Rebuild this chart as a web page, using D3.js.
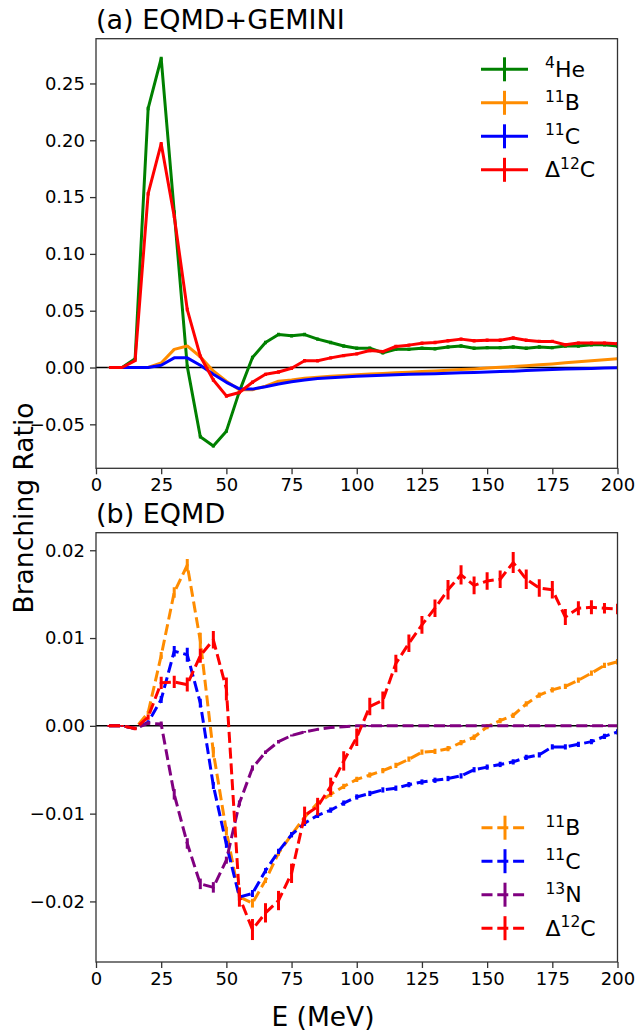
<!DOCTYPE html>
<html>
<head>
<meta charset="utf-8">
<script src="https://cdn.jsdelivr.net/npm/d3@7"></script>
<style>
  body { margin: 0; background: #fff; }
  svg { display: block; font-family: "DejaVu Sans", sans-serif; }
</style>
</head>
<body>
<svg id="chart" width="637" height="1034"></svg>
<script>
// ---- DATA ----
const energies = [5,10,15,20,25,30,35,40,45,50,55,60,65,70,75,80,85,90,95,100,
                  105,110,115,120,125,130,135,140,145,150,155,160,165,170,175,180,185,190,195,200];
const xTicks = [0,25,50,75,100,125,150,175,200];
const topYTicks = [-0.05,0,0.05,0.10,0.15,0.20,0.25];
const botYTicks = [-0.02,-0.01,0,0.01,0.02];

// (a) EQMD+GEMINI
const heTop = [0,0,0.0077,0.228,0.272,0.137,0.001,-0.061,-0.069,-0.056,-0.021,0.0088,0.022,0.029,0.028,0.029,0.025,0.022,0.019,0.017,
               0.017,0.013,0.016,0.016,0.017,0.0165,0.018,0.019,0.017,0.0175,0.0175,0.018,0.017,0.018,0.0175,0.019,0.019,0.020,0.020,0.019];
const bTop  = [0,0,0,0,0.004,0.016,0.019,0.0095,-0.003,-0.012,-0.0195,-0.0195,-0.0165,-0.012,-0.011,-0.0095,-0.0085,-0.0077,-0.007,-0.0064,
               -0.0058,-0.0052,-0.0046,-0.0041,-0.0036,-0.0030,-0.0024,-0.0018,-0.0012,-0.0005,0.0002,0.0009,0.0016,0.0024,0.0032,0.0041,0.0050,0.0060,0.0069,0.0077];
const cTop  = [0,0,0,0,0.002,0.0085,0.0085,0.002,-0.006,-0.013,-0.0188,-0.019,-0.017,-0.0145,-0.0125,-0.011,-0.0097,-0.0090,-0.0083,-0.0077,
               -0.0072,-0.0068,-0.0064,-0.0060,-0.0057,-0.0054,-0.0051,-0.0047,-0.0043,-0.0040,-0.0036,-0.0032,-0.0027,-0.0022,-0.0018,-0.0014,-0.0011,-0.0008,-0.0005,-0.0003];
const dTop  = [0,0,0.006,0.153,0.197,0.133,0.051,0.010,-0.011,-0.025,-0.022,-0.013,-0.006,-0.004,-0.0007,0.006,0.006,0.0085,0.0105,0.012,
               0.015,0.014,0.0185,0.0197,0.0213,0.022,0.0235,0.025,0.0235,0.024,0.024,0.026,0.024,0.023,0.023,0.020,0.0215,0.0215,0.0215,0.021];
const heTopErr = [0.0002,0.0002,0.001,0.0015,0.0015,0.0015,0.0015,0.0015,0.0015,0.0015,0.0015,0.0015,0.0015,0.0015,0.0015,0.0015,0.0015,0.0015,0.0015,0.0015,
                  0.0015,0.0015,0.0015,0.0015,0.0015,0.0015,0.0015,0.0015,0.0015,0.0015,0.0015,0.0015,0.0015,0.0015,0.0015,0.0015,0.0015,0.0015,0.0015,0.0015];
const bTopErr  = [0,0,0,0.0002,0.0004,0.0005,0.0005,0.0005,0.0004,0.0004,0.0004,0.0004,0.0004,0.0004,0.0004,0.0004,0.0004,0.0004,0.0004,0.0004,
                  0.0004,0.0004,0.0004,0.0004,0.0004,0.0004,0.0004,0.0004,0.0004,0.0004,0.0004,0.0004,0.0004,0.0004,0.0004,0.0004,0.0004,0.0004,0.0004,0.0004];
const cTopErr  = [0,0,0,0.0002,0.0004,0.0005,0.0005,0.0005,0.0004,0.0004,0.0004,0.0004,0.0004,0.0004,0.0004,0.0004,0.0004,0.0004,0.0004,0.0004,
                  0.0004,0.0004,0.0004,0.0004,0.0004,0.0004,0.0004,0.0004,0.0004,0.0004,0.0004,0.0004,0.0004,0.0004,0.0004,0.0004,0.0004,0.0004,0.0004,0.0004];
const dTopErr  = [0.0002,0.0002,0.001,0.0015,0.0015,0.0015,0.0015,0.0015,0.0015,0.0015,0.0015,0.0015,0.0015,0.0015,0.0015,0.0015,0.0015,0.0015,0.0015,0.0015,
                  0.0015,0.0015,0.0015,0.0015,0.0015,0.0015,0.0015,0.0015,0.0015,0.0015,0.0015,0.0015,0.0015,0.0015,0.0015,0.0015,0.0015,0.0015,0.0015,0.0015];

// (b) EQMD
const bBot = [0,0,-0.0003,0.0015,0.008,0.0152,0.0183,0.0097,-0.003,-0.012,-0.0195,-0.0202,-0.0176,-0.0145,-0.0124,-0.0104,-0.0088,-0.0078,-0.0069,-0.0061,
              -0.0056,-0.0051,-0.0045,-0.0038,-0.003,-0.0029,-0.0026,-0.0019,-0.0013,-0.0001,0.0006,0.0012,0.0025,0.0035,0.0041,0.0045,0.0052,0.006,0.0069,0.0073];
const cBot = [0,0,-0.0003,0.0004,0.003,0.0085,0.0081,0.0026,-0.0068,-0.0135,-0.0195,-0.0191,-0.0165,-0.0143,-0.0124,-0.0111,-0.0102,-0.0096,-0.0088,-0.0081,
              -0.0077,-0.0073,-0.0071,-0.0067,-0.0064,-0.0062,-0.006,-0.0057,-0.005,-0.0047,-0.0044,-0.0041,-0.0036,-0.0033,-0.0024,-0.0024,-0.0021,-0.0018,-0.0012,-0.0007];
const nBot = [0,0,-0.0003,0.0003,0.0002,-0.0078,-0.0134,-0.018,-0.0184,-0.0153,-0.0088,-0.0048,-0.003,-0.0018,-0.0011,-0.0007,-0.0004,-0.0002,-0.0001,0,
              0,0,0,0,0,0,0,0,0,0,0,0,0,0,0,0,0,0,0,0];
const dBot = [0,0,-0.0003,0.001,0.0049,0.005,0.0047,0.008,0.0098,0.0042,-0.0195,-0.0232,-0.0213,-0.0199,-0.0168,-0.0102,-0.0092,-0.0069,-0.004,-0.0013,
              0.0022,0.0029,0.0071,0.0094,0.0115,0.0134,0.0155,0.0172,0.016,0.0165,0.0167,0.0186,0.0167,0.0157,0.0155,0.0124,0.0134,0.0135,0.0134,0.0133];
const bBotErr = [0.0001,0.0001,0.0001,0.0002,0.0004,0.0006,0.0007,0.0009,0.0006,0.0005,0.0004,0.0005,0.0003,0.0003,0.0003,0.0003,0.0003,0.0003,0.0003,0.0003,
                 0.0003,0.0003,0.0003,0.0003,0.0003,0.0003,0.0003,0.0003,0.0003,0.0003,0.0003,0.0003,0.0003,0.0003,0.0003,0.0003,0.0003,0.0003,0.0003,0.0003];
const cBotErr = [0.0001,0.0001,0.0001,0.0002,0.0004,0.0006,0.0008,0.0005,0.0004,0.0004,0.0004,0.0004,0.0003,0.0003,0.0003,0.0003,0.0003,0.0003,0.0003,0.0003,
                 0.0003,0.0003,0.0003,0.0003,0.0003,0.0003,0.0003,0.0003,0.0003,0.0003,0.0003,0.0003,0.0003,0.0003,0.0003,0.0003,0.0003,0.0003,0.0003,0.0003];
const nBotErr = [0.0001,0.0001,0.0001,0.0002,0.0003,0.0006,0.0006,0.0006,0.0006,0.0004,0.0003,0.0003,0.0002,0.0002,0.0001,0.0001,0.0001,0.0001,0.0001,0.0001,
                 0.0001,0.0001,0.0001,0.0001,0.0001,0.0001,0.0001,0.0001,0.0001,0.0001,0.0001,0.0001,0.0001,0.0001,0.0001,0.0001,0.0001,0.0001,0.0001,0.0001];
const dBotErr = [0.0001,0.0001,0.0002,0.0003,0.0007,0.0007,0.0008,0.0008,0.001,0.0013,0.0011,0.0012,0.0011,0.0011,0.0011,0.001,0.001,0.001,0.0011,0.001,
                 0.001,0.001,0.001,0.001,0.001,0.001,0.0011,0.0011,0.001,0.001,0.001,0.0012,0.0011,0.001,0.001,0.0009,0.0008,0.0008,0.0006,0.0006];

const topSeries = [
  { sup: "4",  base: "He", pre: "",  color: "green",      vals: heTop, err: heTopErr },
  { sup: "11", base: "B",  pre: "",  color: "darkorange", vals: bTop,  err: bTopErr },
  { sup: "11", base: "C",  pre: "",  color: "blue",       vals: cTop,  err: cTopErr },
  { sup: "12", base: "C",  pre: "Δ", color: "red",        vals: dTop,  err: dTopErr }
];
const botSeries = [
  { sup: "11", base: "B",  pre: "",  color: "darkorange", vals: bBot, err: bBotErr },
  { sup: "11", base: "C",  pre: "",  color: "blue",       vals: cBot, err: cBotErr },
  { sup: "13", base: "N",  pre: "",  color: "purple",     vals: nBot, err: nBotErr },
  { sup: "12", base: "C",  pre: "Δ", color: "red",        vals: dBot, err: dBotErr }
];

// ---- LAYOUT ----
const svg = d3.select("#chart");
const left = 96, right = 617.5;
const x = d3.scaleLinear().domain([0, 200]).range([left, right]);

const panels = [
  { title: "(a) EQMD+GEMINI", top: 38.7, bottom: 468.3, ydom: [-0.0887, 0.2894], ticks: topYTicks, series: topSeries, dashed: false,
    legend: { x: 481, y: 69.3 } },
  { title: "(b) EQMD", top: 532.7, bottom: 962, ydom: [-0.0269, 0.0220], ticks: botYTicks, series: botSeries, dashed: true,
    legend: { x: 481.5, y: 827.7 } }
];

const fmt = d3.format(".2f");

function labelText(sel, s, size, supSize) {
  if (s.pre) sel.append("tspan").attr("font-size", size).text(s.pre);
  sel.append("tspan").attr("font-size", supSize).attr("dy", -8.5).text(s.sup);
  sel.append("tspan").attr("font-size", size).attr("dy", 8.5).text(s.base);
}

panels.forEach(p => {
  const y = d3.scaleLinear().domain(p.ydom).range([p.bottom, p.top]);
  const g = svg.append("g");

  // clip for plot area
  const clipId = "clip" + Math.round(p.top);
  svg.append("clipPath").attr("id", clipId)
    .append("rect").attr("x", left).attr("y", p.top).attr("width", right - left).attr("height", p.bottom - p.top);

  const plot = g.append("g").attr("clip-path", `url(#${clipId})`);

  // zero line
  plot.append("line")
    .attr("x1", x(0)).attr("x2", x(200)).attr("y1", y(0)).attr("y2", y(0))
    .attr("stroke", "#000").attr("stroke-width", 1.5);

  const line = d3.line().x((d, i) => x(energies[i])).y(d => y(d));

  p.series.forEach(s => {
    plot.append("path")
      .datum(s.vals)
      .attr("d", line)
      .attr("fill", "none")
      .attr("stroke", s.color)
      .attr("stroke-width", 3)
      .attr("stroke-linejoin", "round")
      .attr("stroke-dasharray", p.dashed ? "11,4.8" : null);

    plot.selectAll(null)
      .data(s.vals)
      .enter().append("line")
      .attr("x1", (d, i) => x(energies[i]))
      .attr("x2", (d, i) => x(energies[i]))
      .attr("y1", (d, i) => y(d - s.err[i]))
      .attr("y2", (d, i) => y(d + s.err[i]))
      .attr("stroke", s.color)
      .attr("stroke-width", 3);
  });

  // axes
  const xAxis = d3.axisBottom(x).tickValues(xTicks).tickSize(6).tickPadding(4).tickFormat(d3.format("d"));
  const yAxis = d3.axisLeft(y).tickValues(p.ticks).tickSize(6).tickPadding(5).tickFormat(fmt);

  const gx = g.append("g").attr("transform", `translate(0,${p.bottom})`).call(xAxis);
  const gy = g.append("g").attr("transform", `translate(${left},0)`).call(yAxis);
  [gx, gy].forEach(a => {
    a.select(".domain").remove();
    a.selectAll(".tick line").attr("stroke", "#333").attr("stroke-width", 1.3);
    a.selectAll(".tick text").attr("font-size", 18).attr("fill", "#000")
      .attr("font-family", "DejaVu Sans");
  });
  gx.selectAll(".tick text").attr("dy", "0.71em");

  // frame
  g.append("rect")
    .attr("x", left).attr("y", p.top).attr("width", right - left).attr("height", p.bottom - p.top)
    .attr("fill", "none").attr("stroke", "#333").attr("stroke-width", 1.3);

  // title
  g.append("text")
    .attr("x", 96).attr("y", p.top - 9.5)
    .attr("font-size", 27).attr("fill", "#000")
    .text(p.title);

  // legend
  const lg = g.append("g");
  p.series.forEach((s, i) => {
    const cy = p.legend.y + i * 33.5;
    const row = lg.append("g");
    row.append("line")
      .attr("x1", p.legend.x).attr("x2", p.legend.x + 47)
      .attr("y1", cy).attr("y2", cy)
      .attr("stroke", s.color).attr("stroke-width", 3)
      .attr("stroke-dasharray", p.dashed ? "11,4.8" : null);
    row.append("line")
      .attr("x1", p.legend.x + 23.5).attr("x2", p.legend.x + 23.5)
      .attr("y1", cy - 12).attr("y2", cy + 12)
      .attr("stroke", s.color).attr("stroke-width", 3);
    const t = row.append("text")
      .attr("x", p.legend.x + 64).attr("y", cy + 7.5)
      .attr("fill", "#000");
    labelText(t, s, 22, 15.5);
  });
});

// shared axis labels
svg.append("text")
  .attr("transform", "translate(33,508) rotate(-90)")
  .attr("text-anchor", "middle")
  .attr("font-size", 26.5)
  .text("Branching Ratio");

svg.append("text")
  .attr("x", 323).attr("y", 1026)
  .attr("text-anchor", "middle")
  .attr("font-size", 26.5)
  .text("E (MeV)");
</script>
</body>
</html>
